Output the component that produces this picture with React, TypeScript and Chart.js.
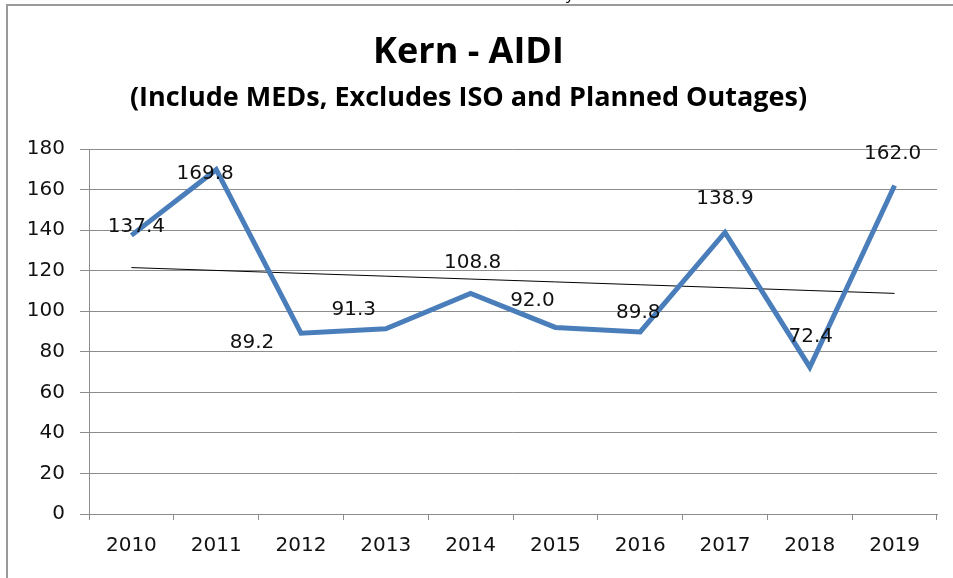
import React, { useEffect, useRef } from "react";
import { Chart, registerables } from "chart.js";

Chart.register(...registerables);

const years = ["2010", "2011", "2012", "2013", "2014", "2015", "2016", "2017", "2018", "2019"];
const aidi = [137.4, 169.8, 89.2, 91.3, 108.8, 92.0, 89.8, 138.9, 72.4, 162.0];
const yTicks = [0, 20, 40, 60, 80, 100, 120, 140, 160, 180];

// label placement (pixel offsets from each point), layout only
const labelOffsets: [number, number][] = [
  [5, -9], [-11, 4], [-49, 10], [-32, -19], [2, -31],
  [-23, -27], [-2, -19], [0, -34], [1, -30], [-2, -32],
];

function linearTrend(vals: number[]): number[] {
  const n = vals.length;
  const mx = (n - 1) / 2;
  const my = vals.reduce((a, b) => a + b, 0) / n;
  let sxy = 0, sxx = 0;
  vals.forEach((v, i) => { sxy += (i - mx) * (v - my); sxx += (i - mx) * (i - mx); });
  const b = sxy / sxx;
  return vals.map((_, i) => my + b * (i - mx));
}

const TICK_FONT = "'DejaVu Sans', Verdana, sans-serif";

const framePlugin = {
  id: "frame",
  beforeDraw(chart: any) {
    const ctx = chart.ctx;
    ctx.save();
    ctx.fillStyle = "#ffffff";
    ctx.fillRect(0, 0, chart.width, chart.height);
    ctx.strokeStyle = "#9a9a9a";
    ctx.lineWidth = 2;
    ctx.strokeRect(7, 5, chart.width + 40, chart.height + 40);
    ctx.fillStyle = "#000";
    ctx.font = "16px 'Open Sans', sans-serif";
    ctx.textAlign = "center";
    ctx.textBaseline = "alphabetic";
    ctx.fillText("y", 570, -1);
    ctx.restore();
  },
};

const labelPlugin = {
  id: "valueLabels",
  afterDatasetsDraw(chart: any) {
    const meta = chart.getDatasetMeta(0);
    const ctx = chart.ctx;
    ctx.save();
    ctx.font = `20px ${TICK_FONT}`;
    ctx.fillStyle = "#111";
    ctx.textAlign = "center";
    ctx.textBaseline = "middle";
    meta.data.forEach((pt: any, i: number) => {
      const [dx, dy] = labelOffsets[i] || [0, -30];
      ctx.fillText(aidi[i].toFixed(1), pt.x + dx, pt.y + dy);
    });
    ctx.restore();
  },
};

export default function App() {
  const ref = useRef<HTMLCanvasElement | null>(null);
  useEffect(() => {
    if (!ref.current) return;
    const chart = new Chart(ref.current, {
      type: "line",
      data: {
        labels: years,
        datasets: [
          {
            label: "AIDI",
            data: aidi,
            borderColor: "#4a7ebb",
            borderWidth: 5,
            pointRadius: 0,
            tension: 0,
            fill: false,
          },
          {
            label: "Trend",
            data: linearTrend(aidi),
            borderColor: "#000000",
            borderWidth: 1,
            pointRadius: 0,
            fill: false,
          },
        ],
      },
      options: {
        responsive: false,
        animation: false,
        layout: { padding: { left: 0, right: 16, top: 0, bottom: 0 } },
        plugins: {
          legend: { display: false },
          tooltip: { enabled: false },
          title: {
            display: true,
            text: "Kern - AIDI",
            color: "#000",
            font: { family: "'Open Sans', sans-serif", size: 36, weight: "bold" },
            padding: { top: 31, bottom: 8 },
          },
          subtitle: {
            display: true,
            text: "(Include MEDs, Excludes ISO and Planned Outages)",
            color: "#000",
            font: { family: "'Open Sans', sans-serif", size: 27, weight: "bold" },
            padding: { top: 0, bottom: 34.4 },
          },
        },
        scales: {
          x: {
            offset: true,
            grid: {
              display: true,
              offset: true,
              drawOnChartArea: false,
              color: "#8c8c8c",
              tickLength: 6,
            },
            border: { display: true, color: "#8c8c8c" },
            ticks: {
              color: "#111",
              font: { family: TICK_FONT, size: 20 },
              padding: 14,
              maxRotation: 0,
            },
            afterFit(scale: any) { scale.height = 64; },
          },
          y: {
            min: 0,
            max: 180,
            afterBuildTicks(scale: any) { scale.ticks = yTicks.map((v) => ({ value: v })); },
            grid: { color: "#8c8c8c", tickLength: 9 },
            border: { display: true, color: "#8c8c8c" },
            ticks: {
              color: "#111",
              font: { family: TICK_FONT, size: 20 },
              padding: 15,
            },
            afterFit(scale: any) { scale.width = 89; },
          },
        },
      },
      plugins: [framePlugin, labelPlugin],
    });
    return () => chart.destroy();
  }, []);
  return (
    <div style={{ position: "fixed", left: 0, top: 0, width: 953, height: 578 }}>
      <canvas ref={ref} width={953} height={578} />
    </div>
  );
}
